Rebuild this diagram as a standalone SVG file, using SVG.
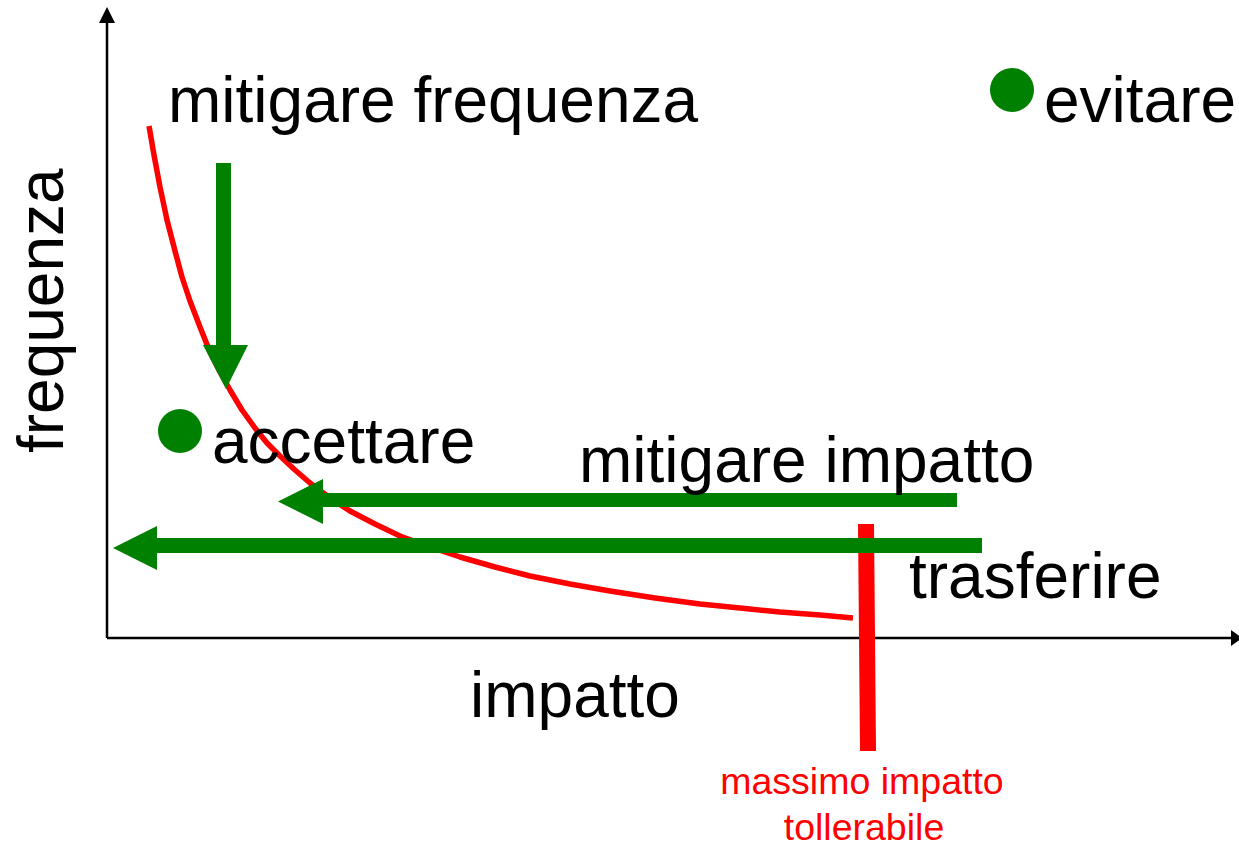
<svg xmlns="http://www.w3.org/2000/svg" width="1239" height="847" viewBox="0 0 1239 847">
<style>
.lbl{font-family:"Liberation Sans",Arial,sans-serif;font-size:64px;fill:#000}
.red{font-family:"Liberation Sans",Arial,sans-serif;font-size:37.5px;fill:#ff0000;text-anchor:middle}
.g{fill:#008000}
</style>
<rect width="1239" height="847" fill="#fff"/>
<g id="axes">
<line x1="107" y1="20" x2="107" y2="638" stroke="#000" stroke-width="2.5"/>
<polygon points="107,7 99,23 115,23" fill="#000"/>
<line x1="107" y1="638" x2="1233" y2="638" stroke="#000" stroke-width="2.5"/>
<polygon points="1242,638 1231,630 1231,646" fill="#000"/>
</g>
<g id="curve">
<polyline fill="none" stroke="#ff0000" stroke-width="5.5" stroke-linejoin="round" points="149,126 154,155 160,187 167,220 175,251 182,277 190,301 200,327 210,352 220,372 230,390 242,410 255,428 267,443 280,456 295,470 310,483 330,498 350,511 375,524 400,536 430,547 460,557 495,567 530,576 570,584 610,591 655,598 700,604 740,608 780,612 820,615 853,618"/>
</g>
<g id="limit">
<line x1="866" y1="524" x2="868" y2="751" stroke="#ff0000" stroke-width="16"/>
</g>
<g id="connectors">
<g id="arrow-frequenza">
<rect x="216" y="163" width="15" height="183" class="g"/>
<polygon points="203,345 248,345 226,389" class="g"/>
</g>
<g id="arrow-impatto">
<rect x="322" y="493" width="635" height="14" class="g"/>
<polygon points="323,479 323,524 278,501.5" class="g"/>
</g>
<g id="arrow-trasferire">
<rect x="156" y="538" width="826" height="15" class="g"/>
<polygon points="157,526 157,570 113,548" class="g"/>
</g>
</g>
<g id="node-evitare">
<circle cx="1012" cy="90" r="22" class="g"/>
<text x="1044" y="122" class="lbl">evitare</text>
</g>
<g id="node-accettare">
<circle cx="180" cy="431" r="22" class="g"/>
<text x="212" y="463" class="lbl">accettare</text>
</g>
<g id="labels">
<text x="168" y="122" class="lbl">mitigare frequenza</text>
<text x="579" y="482" class="lbl">mitigare impatto</text>
<text x="909" y="598" class="lbl">trasferire</text>
<text x="470" y="717" class="lbl">impatto</text>
<text transform="translate(63,453) rotate(-90)" class="lbl">frequenza</text>
<text x="862" y="794" class="red">massimo impatto</text>
<text x="864" y="840" class="red">tollerabile</text>
</g>
</svg>
